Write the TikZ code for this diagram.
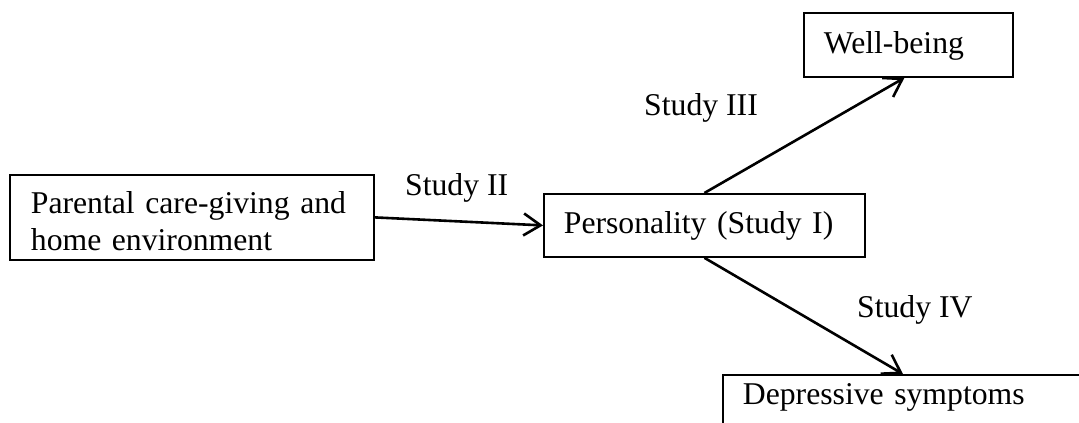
\documentclass[tikz,border=0pt]{standalone}
\usepackage{fontspec}
\setmainfont{Liberation Serif}
\usetikzlibrary{arrows.meta}
\begin{document}
\begin{tikzpicture}[x=1pt,y=-1pt,
  box/.style={draw=black,line width=1.8pt,anchor=north west,inner xsep=20pt,inner ysep=0pt,
    align=left,font=\fontsize{31.7}{37}\selectfont},
  lbl/.style={inner sep=0pt,font=\fontsize{31.7}{37}\selectfont},
  conn/.style={line width=2.6pt,-{Straight Barb[length=17pt,width=22pt,line width=2.6pt]}}]
\useasboundingbox (0,0) rectangle (1079,423);
\clip (0,0) rectangle (1079,423);
\node[box,inner xsep=21pt,text width=322pt,text height=39pt,text depth=46pt] (par) at (9,174)
  {Parental care-giving and\\home environment};
\node[box,text width=281pt,text height=40pt,text depth=23pt] (pers) at (543,193) {Personality (Study I)};
\node[box,text width=169pt,text height=41pt,text depth=23pt] (wb) at (803,12) {Well-being};
\node[box,text width=320pt,text height=30pt,text depth=90pt] (dep) at (722,374) {Depressive symptoms};
\node[lbl,anchor=base west] (l2) at (405,195) {Study II};
\node[lbl,anchor=base east] (l3) at (758,115) {Study III};
\node[lbl,anchor=base west] (l4) at (857,317) {Study IV};
\draw[conn] (par.east) -- (pers.west);
\draw[conn] (pers.north) -- ([xshift=-4pt]wb.south);
\draw[conn] (pers.south) -- (dep.north);
\end{tikzpicture}
\end{document}
